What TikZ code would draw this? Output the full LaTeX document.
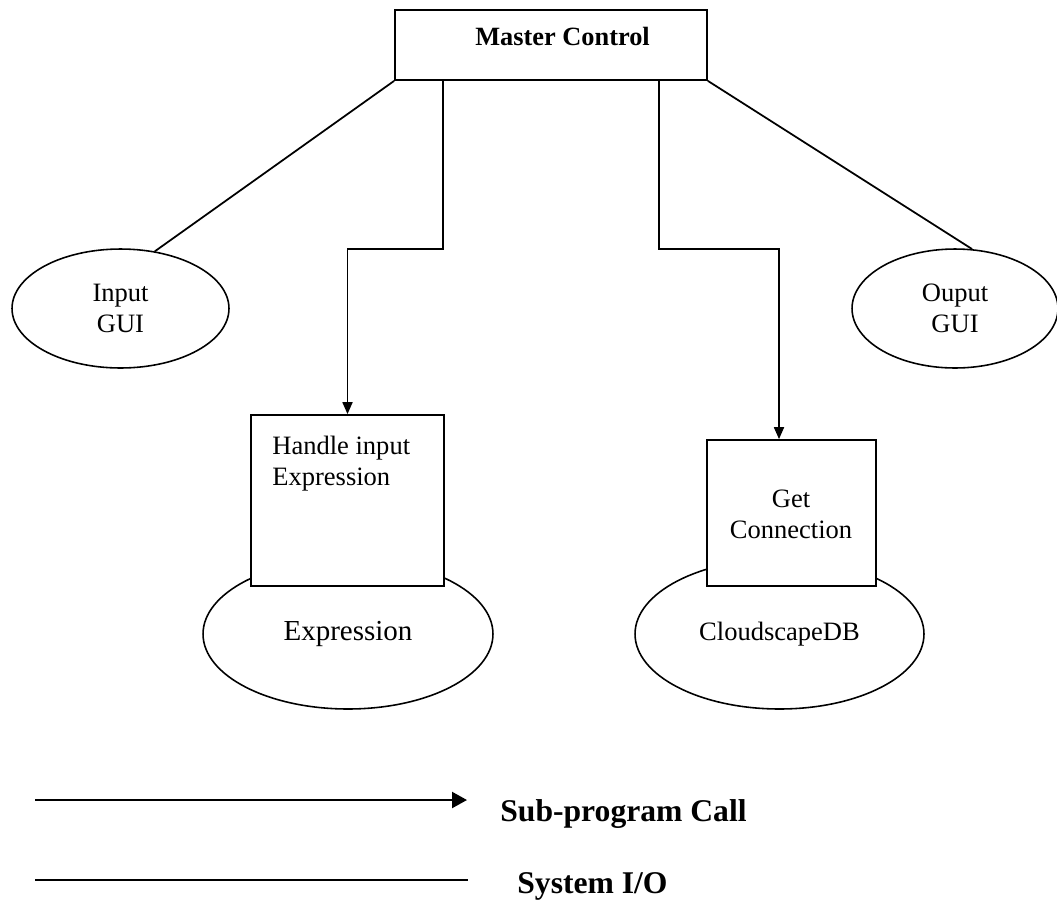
\documentclass[tikz,border=0pt]{standalone}
\usepackage{fontspec}
\setmainfont{Liberation Serif}
\usetikzlibrary{arrows.meta,shapes.geometric}
\begin{document}
\begin{tikzpicture}[x=0.02cm,y=-0.02cm]
\tikzset{
 line/.style={line width=1pt},
 legline/.style={line width=1.3pt},
 call/.style={line, -{Triangle[length=0.24cm,width=0.2cm]}},
 boxnode/.style={draw, line width=1pt, fill=white, inner sep=0},
 ellnode/.style={draw, ellipse, line width=0.9pt, inner sep=0},
 txt/.style={font=\fontsize{15.1}{17.6}\selectfont, inner sep=0, align=center},
 btxt/.style={font=\bfseries\fontsize{15}{18}\selectfont, inner sep=0},
 legtxt/.style={font=\bfseries\fontsize{18}{21}\selectfont, inner sep=0, anchor=base west},
}
\useasboundingbox (0,0) rectangle (1057,900);
% ellipses
\node[ellnode, txt, minimum width=4.34cm, minimum height=2.38cm] (ingui) at (120.5,308.5) {Input\\GUI};
\node[ellnode, txt, minimum width=4.12cm, minimum height=2.38cm] (outgui) at (955,308.5) {Ouput\\GUI};
\node[ellnode, txt, font=\fontsize{16.5}{19}\selectfont, minimum width=5.8cm, minimum height=3.0cm] (expr) at (348,634) {Expression};
\node[ellnode, txt, minimum width=5.78cm, minimum height=3.0cm] (cloud) at (779.5,634) {CloudscapeDB};
% boxes
\node[boxnode, minimum width=6.24cm, minimum height=1.4cm] (master) at (551,45) {};
\node[btxt, anchor=base west] (mastertxt) at (475,45) {Master Control};
\node[boxnode, minimum width=3.86cm, minimum height=3.42cm] (handle) at (347.5,500.5) {};
\node[txt, align=left, anchor=north west] (handletxt) at (272,436) {Handle input\\Expression};
\node[boxnode, minimum width=3.38cm, minimum height=2.92cm] (get) at (791.5,513) {};
\node[txt, anchor=north] (gettxt) at (791,490) {Get\\Connection};
% connectors
\coordinate (b1) at (443,249);
\coordinate (b2) at (659,249);
\coordinate (c2) at (779,249);
\draw[line] (master.south west) -- (ingui.59);
\draw[line] (master.south east) -- (outgui.74);
\draw[call] (master.south -| b1) -- (b1) -| (handle.north);
\draw[call] (master.south -| b2) -- (b2) -- (c2) -- (c2 |- get.north);
% legend
\coordinate (la) at (35,800);
\coordinate (lb) at (467,800);
\coordinate (lc) at (35,880);
\coordinate (ld) at (468,880);
\draw[legline, -{Triangle[length=0.3cm,width=0.32cm]}] (la) -- (lb);
\draw[legline] (lc) -- (ld);
\node[legtxt] (subtxt) at (500,821) {Sub-program Call};
\node[legtxt] (systxt) at (517,893) {System I/O};
\end{tikzpicture}
\end{document}
